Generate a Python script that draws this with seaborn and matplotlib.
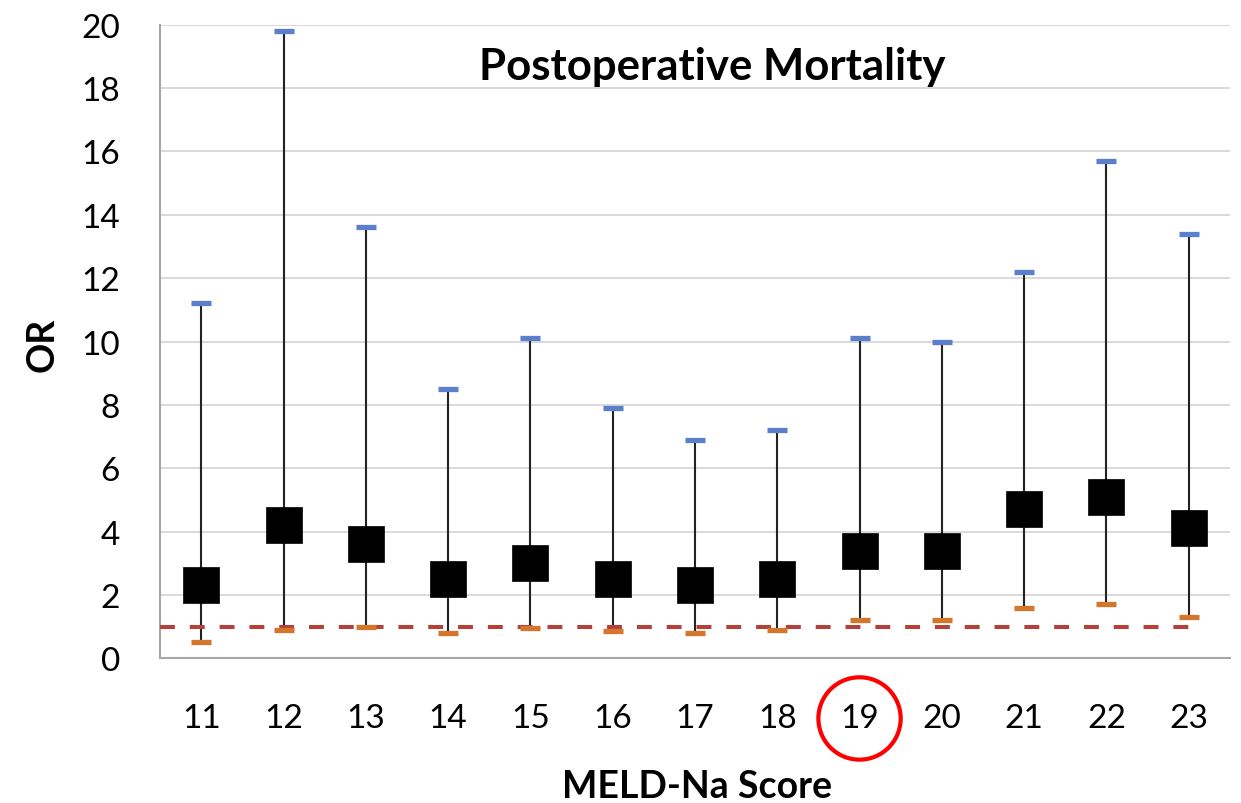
import numpy as np
import pandas as pd
import matplotlib.pyplot as plt
import matplotlib.transforms as mtransforms
from matplotlib.patches import Ellipse
import seaborn as sns

# MELD-Na score categories and odds ratios
scores = ['11', '12', '13', '14', '15', '16', '17', '18', '19', '20', '21', '22', '23']
odds_ratio = [2.3, 4.2, 3.6, 2.5, 3.0, 2.5, 2.3, 2.5, 3.4, 3.4, 4.7, 5.1, 4.1]
ci_upper = [11.2, 19.8, 13.6, 8.5, 10.1, 7.9, 6.9, 7.2, 10.1, 10.0, 12.2, 15.7, 13.4]
ci_lower = [0.5, 0.9, 1.0, 0.8, 0.95, 0.85, 0.8, 0.9, 1.2, 1.2, 1.6, 1.7, 1.3]
ref_or = 1.0
highlight = '19'

df = pd.DataFrame({'score': scores, 'OR': odds_ratio,
                   'upper': ci_upper, 'lower': ci_lower})

sns.set_theme(style='whitegrid')
plt.rcParams['font.family'] = ['Lato', 'DejaVu Sans']

fig = plt.figure(figsize=(12.41, 8.04), dpi=100)
ax = fig.add_axes([0.129, 0.180, 0.862, 0.788])

# whiskers
ax.vlines(df['score'], df['lower'], df['upper'], color='#222222', lw=1.5, zorder=2)

# reference line OR = 1
ax.axhline(ref_or, xmin=0, xmax=0.965, color='#B5403A', lw=2.9,
           dashes=(3.7, 3.7), zorder=3)

# point estimates
sns.scatterplot(data=df, x='score', y='OR', marker='s', s=700, color='black',
                edgecolor='black', linewidth=0.5, ax=ax, zorder=4)
# CI caps
sns.scatterplot(data=df, x='score', y='upper', marker='_', s=210, color='#5B7FCC',
                linewidth=3.8, ax=ax, zorder=5)
sns.scatterplot(data=df, x='score', y='lower', marker='_', s=210, color='#D4772C',
                linewidth=3.8, ax=ax, zorder=5)

ax.set_xlim(-0.5, len(scores) - 0.5)
ax.set_ylim(0, 20)
ax.set_yticks(np.arange(0, 21, 2))

ax.grid(axis='y', color='#D9D9D9', lw=1.4)
ax.grid(axis='x', visible=False)
for side in ['top', 'right']:
    ax.spines[side].set_visible(False)
for side in ['left', 'bottom']:
    ax.spines[side].set_color('#A6A6A6')
    ax.spines[side].set_linewidth(1.5)

ax.tick_params(axis='x', length=0, pad=32, labelsize=24, labelcolor='black')
ax.tick_params(axis='y', length=0, pad=29, labelsize=24, labelcolor='black')

ax.text(0.516, 0.935, 'Postoperative Mortality', transform=ax.transAxes,
        ha='center', va='center', fontsize=31.5, fontweight='bold', color='black')

ax.set_xlabel('MELD-Na Score', fontsize=27, fontweight='bold', color='black', va='center')
ax.xaxis.set_label_coords(0.502, -0.202)
ax.set_ylabel('OR', fontsize=27, fontweight='bold', color='black', va='center')
ax.yaxis.set_label_coords(-0.110, 0.496)

# red circle around the highlighted score
trans = mtransforms.blended_transform_factory(ax.transData, ax.transAxes)
ax.add_patch(Ellipse((scores.index(highlight), -0.095), 1.0, 0.13, transform=trans,
                     fill=False, edgecolor='#FF0000', lw=3, clip_on=False))

fig.savefig('out.png', dpi=100)
